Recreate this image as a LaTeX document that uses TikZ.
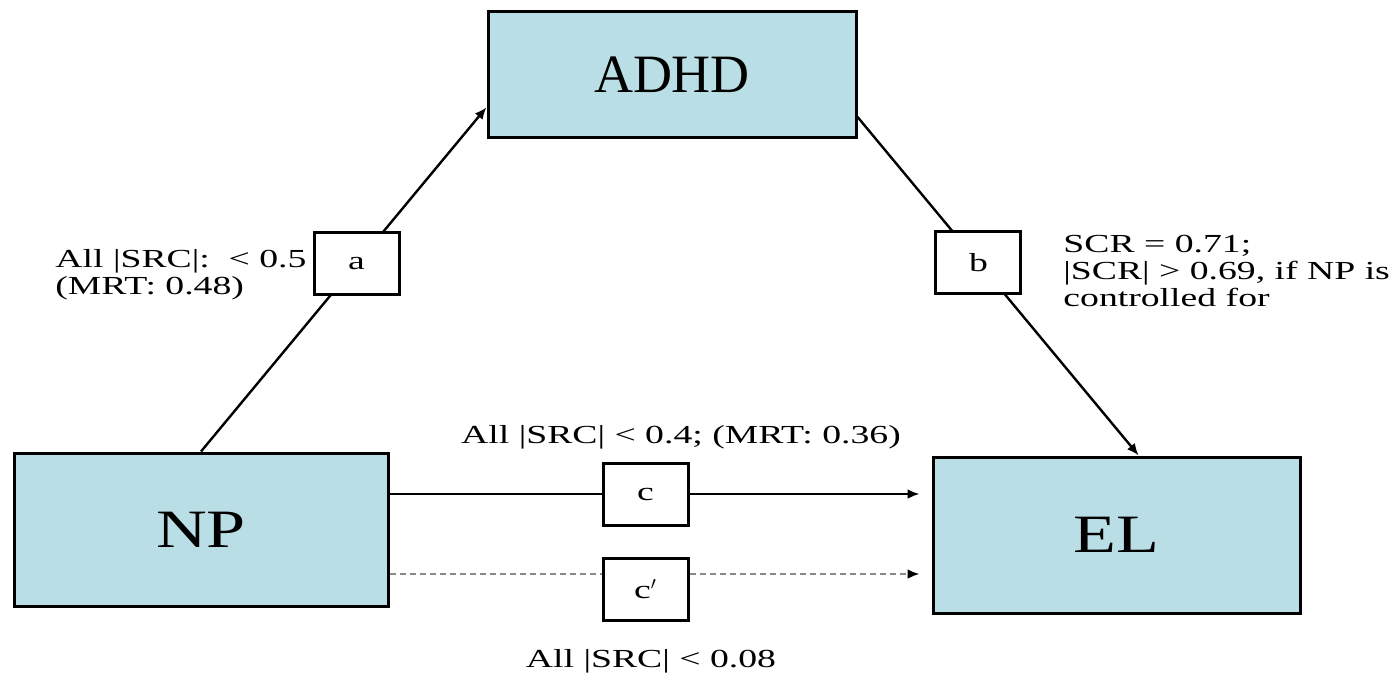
\documentclass[tikz,border=0pt]{standalone}
\usepackage{fontspec}
\setmainfont{Liberation Serif}
\newfontfamily\widefont[FakeStretch=1.3]{Liberation Serif}
\newfontfamily\lblfont[FakeStretch=1.45]{Liberation Serif}
\usepackage{tikz}
\usetikzlibrary{positioning,arrows.meta,calc}
\definecolor{medblue}{HTML}{B9DEE5}
\definecolor{medgrey}{HTML}{8A8A8A}

\begin{document}
\begin{tikzpicture}[x=0.5pt,y=-0.5pt,>={Latex[length=6pt,width=5pt]},
  var/.style={draw=black,line width=1.5pt,fill=medblue,inner sep=0pt},
  path/.style={draw=black,line width=1.5pt,fill=white,minimum width=42.5pt,minimum height=31pt,inner sep=0pt,font=\lblfont\fontsize{13}{13.5}\selectfont},
  est/.style={inner sep=0pt,align=left,font=\lblfont\fontsize{13}{13.5}\selectfont},
  link/.style={->,line width=1.2pt}]
\useasboundingbox (0,0) rectangle (1390,679);
% the three variables
\node[var,minimum width=184pt,minimum height=63pt,font=\fontsize{27}{30}\selectfont] (adhd) at (672,75) {ADHD};
\node[var,minimum width=187pt,minimum height=76.5pt,font=\widefont\fontsize{27}{30}\selectfont] (np) at (201,529.5) {NP};
\node[var,minimum width=183.5pt,minimum height=78pt,font=\widefont\fontsize{27}{30}\selectfont] (el) at (1116.5,535) {EL};
% paths a, b, c and c'
\draw[link] (np.north) -- ($(adhd.west)!.5!(adhd.south west)$) node[path,pos=.545] (a) {a};
\draw[link] ($(adhd.east)!.65!(adhd.south east)$) -- ($(el.north west)!.56!(el.north east)$) node[path,pos=.43] (b) {b};
\draw[link] ($(np.east)+(0,-35.5)$) -- ($(el.west)+(-12,-41)$) node[path,pos=.483] (c) {c};
\draw[link,medgrey,densely dashed,-{Latex[length=6pt,width=5pt,black]}] ($(np.east)+(0,44.5)$) -- ($(el.west)+(-12,39)$) coordinate[pos=.483] (cpm);
\node[path] (cp) at ($(cpm)+(0,15)$) {c$'$};
% estimates
\node[est,anchor=north west] (esta) at (55,249) {All |SRC|:\ \ < 0.5\\(MRT: 0.48)};
\node[est,anchor=north west] (estb) at (1063,235) {SCR = 0.71;\\|SCR| > 0.69, if NP is\\controlled for};
\node[est] (estc) at (681,437) {All |SRC| < 0.4; (MRT: 0.36)};
\node[est] (estcp) at (651,661) {All |SRC| < 0.08};
\end{tikzpicture}
\end{document}
